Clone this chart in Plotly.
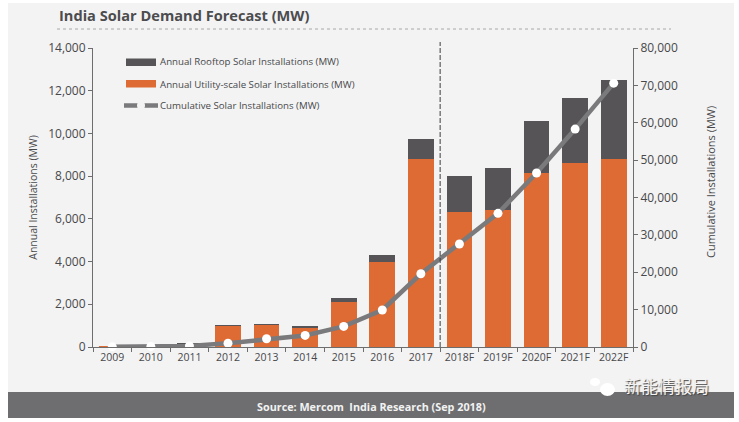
import plotly.graph_objects as go

# values
years = ["2009", "2010", "2011", "2012", "2013", "2014", "2015", "2016", "2017",
         "2018F", "2019F", "2020F", "2021F", "2022F"]
utility = [8, 30, 150, 1000, 1040, 900, 2100, 3990, 8790, 6320, 6420, 8160, 8600, 8820]
rooftop = [0, 0, 10, 10, 10, 90, 200, 320, 960, 1670, 1950, 2420, 3040, 3660]
cumulative = [50, 150, 300, 1000, 2200, 3100, 5500, 9900, 19600, 27560, 35770, 46550, 58300, 70600]

GREY_TEXT = "#48484a"
DARK = "#565456"
ORANGE = "#de6b33"
LINE = "#7a7a7c"
FONT = "Open Sans"

fig = go.Figure()
fig.add_trace(go.Bar(x=years, y=utility, name="Annual Utility-scale Solar Installations (MW)",
                     marker_color=ORANGE, marker_line_width=0))
fig.add_trace(go.Bar(x=years, y=rooftop, name="Annual Rooftop Solar Installations (MW)",
                     marker_color=DARK, marker_line_width=0))
fig.add_trace(go.Scatter(x=years, y=cumulative, yaxis="y2", mode="lines+markers",
                         name="Cumulative Solar Installations (MW)", cliponaxis=False,
                         line=dict(color=LINE, width=4.5),
                         marker=dict(color="white", size=9, line_width=0)))

fig.update_layout(
    width=739, height=422,
    margin=dict(l=93, r=106, t=48, b=75),
    barmode="stack", bargap=0.33,
    showlegend=False,
    paper_bgcolor="white", plot_bgcolor="rgba(0,0,0,0)",
    font=dict(family=FONT, color=GREY_TEXT, size=12),
    xaxis=dict(type="category", tickson="boundaries", range=[-0.5, 13.5], ticks="outside", ticklen=4,
               tickcolor="#6d6d6d", linecolor="#6d6d6d", showline=True, showgrid=False,
               tickfont_size=10.5, tickangle=0),
    yaxis=dict(range=[0, 14000], dtick=2000, tickformat=",d", ticks="outside", ticklen=4,
               tickcolor="#6d6d6d", linecolor="#6d6d6d", showline=True, showgrid=False, zeroline=False,
               title=dict(text="Annual Installations (MW)", font_size=10.5, standoff=8)),
    yaxis2=dict(range=[0, 80000], dtick=10000, tickformat=",d", overlaying="y", side="right",
                ticks="outside", ticklen=4, tickcolor="#6d6d6d", linecolor="#6d6d6d",
                showline=True, showgrid=False, zeroline=False),
)

# page furniture, pixel positions turned into paper fractions
W, H = 540, 299
def px(x):
    return (x - 93) / W
def py(y):
    return (347 - y) / H

fig.add_shape(type="rect", xref="paper", yref="paper", x0=px(8), x1=px(734), y0=py(3), y1=py(392),
              fillcolor="#f3f3f4", line_width=0, layer="below")
fig.add_shape(type="rect", xref="paper", yref="paper", x0=px(8), x1=px(734), y0=py(392), y1=py(418),
              fillcolor="#6e6e70", line_width=0, layer="below")
fig.add_shape(type="line", xref="paper", yref="paper", x0=px(57), x1=px(671), y0=py(29), y1=py(29),
              line=dict(color="#a8a8a8", width=1, dash="dot"), layer="below")
# actual / forecast divider
fig.add_shape(type="line", xref="x", yref="paper", x0=8.5, x1=8.5, y0=0, y1=py(42),
              line=dict(color="#3c3c3e", width=1, dash="5px,2px"))

# legend swatches
fig.add_shape(type="rect", xref="paper", yref="paper", x0=px(126), x1=px(156), y0=py(58.5), y1=py(66),
              fillcolor=DARK, line_width=0)
fig.add_shape(type="rect", xref="paper", yref="paper", x0=px(126), x1=px(156), y0=py(80), y1=py(87.5),
              fillcolor=ORANGE, line_width=0)
fig.add_shape(type="line", xref="paper", yref="paper", x0=px(124), x1=px(158), y0=py(105.5), y1=py(105.5),
              line=dict(color=LINE, width=4.5))
fig.add_shape(type="circle", xref="paper", yref="paper", x0=px(137), x1=px(145), y0=py(101.5), y1=py(109.5),
              fillcolor="#f3f3f4", line_width=0)

# watermark icon
fig.add_shape(type="circle", xref="paper", yref="paper", x0=px(600), x1=px(615), y0=py(383), y1=py(396),
              fillcolor="white", line_width=0)
fig.add_shape(type="circle", xref="paper", yref="paper", x0=px(590), x1=px(600), y0=py(378), y1=py(386),
              fillcolor="white", line_width=0)

def note(text, x, y, size=10, color=GREY_TEXT, anchor="left", **kw):
    fig.add_annotation(text=text, xref="paper", yref="paper", x=px(x), y=py(y), showarrow=False,
                       xanchor=anchor, yanchor="middle", font=dict(size=size, color=color, family=kw.pop("family", FONT),
                       shadow=kw.pop("shadow", "none")), **kw)

note("<b>India Solar Demand Forecast (MW)</b>", 57, 15, size=14.6, color="#4c4c4e")
note("Annual Rooftop Solar Installations (MW)", 158, 62, size=9.7)
note("Annual Utility-scale Solar Installations (MW)", 158, 84, size=9.7)
note("Cumulative Solar Installations (MW)", 158, 105.5, size=9.7)
note("Cumulative Installations (MW)", 710, 182, size=11, anchor="center", textangle=-90)
note("<b>Source: Mercom  India Research (Sep 2018)</b>", 371, 406, size=10.8, color="#f2f2f2", anchor="center")
note("新能情报局", 666, 385, size=17, color="#f4f4f4", anchor="center", family="Noto Sans CJK SC",
     shadow="1px 1px 1px #444")

fig.write_html("out.html", config={"displayModeBar": False},
               post_script="document.body.style.margin='0';")
